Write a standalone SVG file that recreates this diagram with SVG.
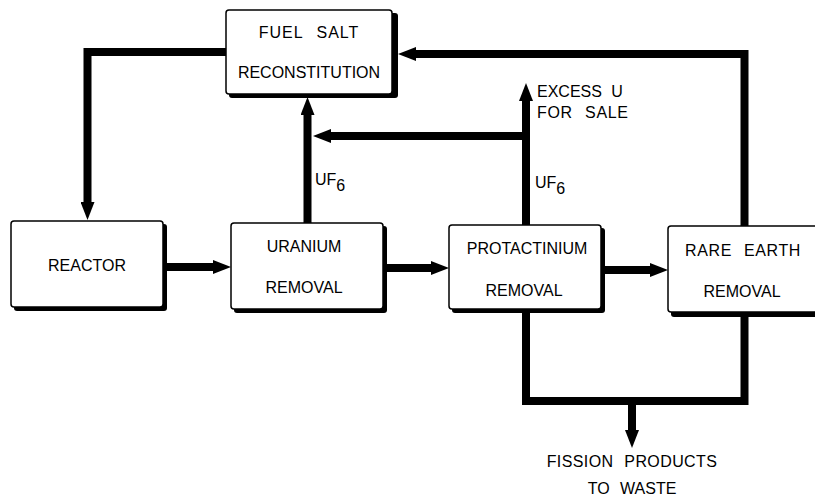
<svg xmlns="http://www.w3.org/2000/svg" width="815" height="499" viewBox="0 0 815 499">
<style>
.box{fill:#fff;stroke:#000;stroke-width:1.5}
.shadow{fill:#000}
.line{fill:none;stroke:#000;stroke-width:8;stroke-linejoin:miter;stroke-linecap:butt}
.t{font-family:"Liberation Sans",Arial,sans-serif;font-size:16px;fill:#000}
.c{text-anchor:middle}
</style>
<defs>
<marker id="ah" viewBox="0 0 18 14" refX="0" refY="7" markerWidth="18" markerHeight="14" markerUnits="userSpaceOnUse" orient="auto">
<path d="M0,0 L18,7 L0,14 Z" fill="#000"/>
</marker>
</defs>
<rect width="815" height="499" fill="#fff"/>
<g id="connectors">
<path class="line" d="M226,52 H87.5 V202" marker-end="url(#ah)"/>
<path class="line" d="M166,267 H213" marker-end="url(#ah)" stroke-width="9"/>
<path class="line" d="M386,268 H431" marker-end="url(#ah)"/>
<path class="line" d="M604,270 H650" marker-end="url(#ah)"/>
<path class="line" d="M307.5,223 V115" marker-end="url(#ah)"/>
<path class="line" d="M526,225 V101" marker-end="url(#ah)"/>
<path class="line" d="M526,136 H331" marker-end="url(#ah)"/>
<path class="line" d="M744.5,226 V54 H416" marker-end="url(#ah)"/>
<path class="line" d="M526,310 V401 H744.5 V314"/>
<path class="line" d="M632,401 V430" marker-end="url(#ah)"/>
</g>
<g id="fuel">
<rect class="shadow" x="229" y="13" width="169" height="85" rx="3"/>
<rect class="box" x="226" y="10" width="166" height="84" rx="3"/>
<text class="t c" x="309" y="38" word-spacing="8" letter-spacing="1">FUEL SALT</text>
<text class="t c" x="309" y="78">RECONSTITUTION</text>
</g>
<g id="reactor">
<rect class="shadow" x="14" y="224" width="153" height="87" rx="3"/>
<rect class="box" x="11" y="221" width="152" height="86" rx="3"/>
<text class="t c" x="87" y="271">REACTOR</text>
</g>
<g id="uranium">
<rect class="shadow" x="234" y="226" width="153" height="87" rx="3"/>
<rect class="box" x="231" y="223" width="152" height="86" rx="3"/>
<text class="t c" x="304" y="252">URANIUM</text>
<text class="t c" x="304" y="293">REMOVAL</text>
</g>
<g id="protactinium">
<rect class="shadow" x="452" y="228" width="153" height="85" rx="3"/>
<rect class="box" x="449" y="225" width="152" height="84" rx="3"/>
<text class="t c" x="527" y="254">PROTACTINIUM</text>
<text class="t c" x="524" y="296">REMOVAL</text>
</g>
<g id="rareearth">
<rect class="shadow" x="671" y="229" width="160" height="88" rx="3"/>
<rect class="box" x="668" y="226" width="160" height="86" rx="3"/>
<text class="t c" x="743" y="256" word-spacing="7" letter-spacing="0.6">RARE EARTH</text>
<text class="t c" x="742" y="297">REMOVAL</text>
</g>
<g id="labels">
<text class="t" x="315" y="185">UF<tspan dy="6">6</tspan></text>
<text class="t" x="535" y="188">UF<tspan dy="6">6</tspan></text>
<text class="t" x="537" y="97" word-spacing="5">EXCESS U</text>
<text class="t" x="537" y="118" word-spacing="7" letter-spacing="0.7">FOR SALE</text>
<text class="t c" x="632" y="467" word-spacing="6" letter-spacing="0.4">FISSION PRODUCTS</text>
<text class="t c" x="632" y="494" word-spacing="6">TO WASTE</text>
</g>
</svg>
